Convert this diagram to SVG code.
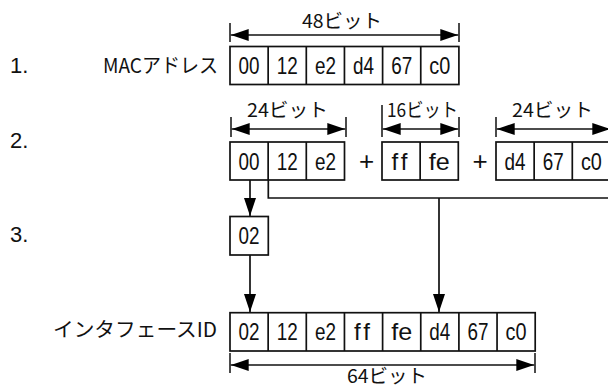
<svg xmlns="http://www.w3.org/2000/svg" width="608" height="385" viewBox="0 0 608 385">
<defs>
<marker id="ah" markerUnits="userSpaceOnUse" markerWidth="18" markerHeight="12" refX="18" refY="6" orient="auto-start-reverse" viewBox="0 0 18 12">
<path d="M0,0 L18,6 L0,12 z" fill="#000"/>
</marker>
</defs>
<style>
text{font-family:"Liberation Sans","Noto Sans CJK JP",sans-serif;fill:#111;font-variant-ligatures:none}
.cell{font-size:24px;text-anchor:middle}
.lbl{font-size:22px}
.jp{font-family:"Noto Sans CJK JP",sans-serif;font-size:19px}
.box{fill:#fff;stroke:#111;stroke-width:1.7}
.dv{stroke:#111;stroke-width:1.7;fill:none}
.dim{stroke:#111;stroke-width:1.7;fill:none;marker-start:url(#ah);marker-end:url(#ah)}
.tk{stroke:#111;stroke-width:1.5}
.con{stroke:#111;stroke-width:1.7;fill:none}
.arr{stroke:#111;stroke-width:1.7;fill:none;marker-end:url(#ah)}
</style>

<g id="row-labels">
<text class="lbl" x="10" y="73">1.</text>
<text class="lbl" x="10" y="148">2.</text>
<text class="lbl" x="10" y="242">3.</text>
</g>

<g id="mac">
<text class="jp" x="103" y="73" textLength="115" lengthAdjust="spacingAndGlyphs" style="font-size:20px">MACアドレス</text>
<rect class="box" x="230" y="46.5" width="228.9" height="38"/>
<path class="dv" d="M268.15,46.5V84.5M306.3,46.5V84.5M344.45,46.5V84.5M382.6,46.5V84.5M420.75,46.5V84.5"/>
<text class="cell" x="249.1" y="74" textLength="21" lengthAdjust="spacingAndGlyphs">00</text>
<text class="cell" x="287.2" y="74" textLength="21" lengthAdjust="spacingAndGlyphs">12</text>
<text class="cell" x="325.4" y="74" textLength="21" lengthAdjust="spacingAndGlyphs">e2</text>
<text class="cell" x="363.5" y="74" textLength="21" lengthAdjust="spacingAndGlyphs">d4</text>
<text class="cell" x="401.7" y="74" textLength="21" lengthAdjust="spacingAndGlyphs">67</text>
<text class="cell" x="439.8" y="74" textLength="21" lengthAdjust="spacingAndGlyphs">c0</text>
<text class="jp" x="302" y="28" textLength="80" lengthAdjust="spacingAndGlyphs">48ビット</text>
<path class="tk" d="M230,23V42M459,23V42"/>
<line class="dim" x1="230.7" y1="35" x2="458.3" y2="35"/>
</g>

<g id="part1">
<rect class="box" x="230" y="142" width="114.5" height="38"/>
<path class="dv" d="M268.15,142V180M306.3,142V180"/>
<text class="cell" x="249.1" y="169.5" textLength="21" lengthAdjust="spacingAndGlyphs">00</text>
<text class="cell" x="287.2" y="169.5" textLength="21" lengthAdjust="spacingAndGlyphs">12</text>
<text class="cell" x="325.4" y="169.5" textLength="21" lengthAdjust="spacingAndGlyphs">e2</text>
<text class="jp" x="247" y="117" textLength="81" lengthAdjust="spacingAndGlyphs">24ビット</text>
<path class="tk" d="M231,117V137M346,117V137"/>
<line class="dim" x1="231.7" y1="129" x2="345.3" y2="129"/>
</g>

<g id="plus1"><text class="cell" x="366.7" y="170" style="font-size:26px">+</text></g>

<g id="part2">
<rect class="box" x="382" y="142" width="76.3" height="38"/>
<path class="dv" d="M420.15,142V180"/>
<text class="cell" x="401.1" y="169.5" textLength="19" lengthAdjust="spacingAndGlyphs" letter-spacing="3">ff</text>
<text class="cell" x="439.2" y="169.5" textLength="21" lengthAdjust="spacingAndGlyphs">fe</text>
<text class="jp" x="387" y="117" textLength="71" lengthAdjust="spacingAndGlyphs">16ビット</text>
<path class="tk" d="M382,105V137M459,117V137"/>
<line class="dim" x1="382.7" y1="129" x2="458.3" y2="129"/>
</g>

<g id="plus2"><text class="cell" x="480" y="170" style="font-size:26px">+</text></g>

<g id="part3">
<rect class="box" x="496" y="142" width="114.5" height="38"/>
<path class="dv" d="M534.15,142V180M572.3,142V180"/>
<text class="cell" x="515.1" y="169.5" textLength="21" lengthAdjust="spacingAndGlyphs">d4</text>
<text class="cell" x="553.2" y="169.5" textLength="21" lengthAdjust="spacingAndGlyphs">67</text>
<text class="cell" x="591.4" y="169.5" textLength="21" lengthAdjust="spacingAndGlyphs">c0</text>
<text class="jp" x="512" y="117" textLength="81" lengthAdjust="spacingAndGlyphs">24ビット</text>
<path class="tk" d="M496,117V137M611,117V137"/>
<line class="dim" x1="496.7" y1="129" x2="610.3" y2="129"/>
</g>

<g id="flipped">
<rect class="box" x="230" y="216.5" width="38.3" height="38.5"/>
<text class="cell" x="249.1" y="244" textLength="21" lengthAdjust="spacingAndGlyphs">02</text>
</g>

<g id="interface-id">
<text class="jp" x="53" y="337" textLength="164" lengthAdjust="spacingAndGlyphs" style="font-size:20px">インタフェースID</text>
<rect class="box" x="230" y="312.7" width="305.2" height="38.3"/>
<path class="dv" d="M268.15,312.7V351M306.3,312.7V351M344.45,312.7V351M382.6,312.7V351M420.75,312.7V351M458.9,312.7V351M497.05,312.7V351"/>
<text class="cell" x="249.1" y="340" textLength="21" lengthAdjust="spacingAndGlyphs">02</text>
<text class="cell" x="287.2" y="340" textLength="21" lengthAdjust="spacingAndGlyphs">12</text>
<text class="cell" x="325.4" y="340" textLength="21" lengthAdjust="spacingAndGlyphs">e2</text>
<text class="cell" x="363.5" y="340" textLength="19" lengthAdjust="spacingAndGlyphs" letter-spacing="3">ff</text>
<text class="cell" x="401.7" y="340" textLength="21" lengthAdjust="spacingAndGlyphs">fe</text>
<text class="cell" x="439.8" y="340" textLength="21" lengthAdjust="spacingAndGlyphs">d4</text>
<text class="cell" x="478.0" y="340" textLength="21" lengthAdjust="spacingAndGlyphs">67</text>
<text class="cell" x="516.1" y="340" textLength="21" lengthAdjust="spacingAndGlyphs">c0</text>
<path class="tk" d="M230,353V373M535,353V373"/>
<line class="dim" x1="230.7" y1="365" x2="534.3" y2="365"/>
<text class="jp" x="347" y="383" textLength="80" lengthAdjust="spacingAndGlyphs">64ビット</text>
</g>

<g id="connectors">
<line class="arr" x1="250" y1="180" x2="250" y2="216"/>
<line class="arr" x1="250" y1="255" x2="250" y2="312"/>
<polyline class="con" points="268.3,180 268.3,198 612,198"/>
<line class="arr" x1="439" y1="198" x2="439" y2="312"/>
</g>
</svg>
